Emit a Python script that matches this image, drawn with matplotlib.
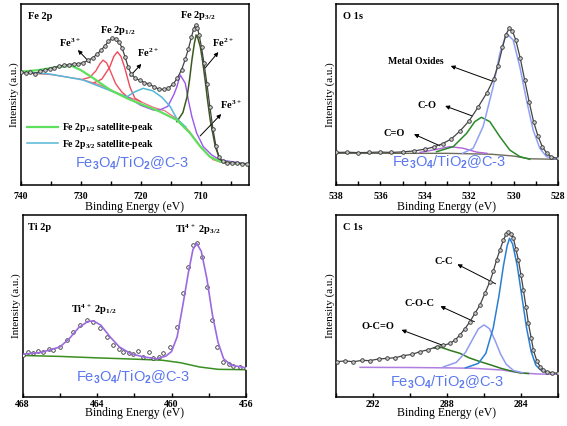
import matplotlib
matplotlib.use('Agg')
import matplotlib.pyplot as plt
from matplotlib.ticker import MultipleLocator
from matplotlib.lines import Line2D

plt.rcParams['font.family'] = 'Liberation Serif'
plt.rcParams['font.weight'] = 'bold'
plt.rcParams['mathtext.fontset'] = 'custom'
plt.rcParams['mathtext.rm'] = 'Liberation Serif:bold'
plt.rcParams['mathtext.sf'] = 'Liberation Sans'
plt.rcParams['mathtext.default'] = 'rm'

# ---------------- Fe 2p ----------------
fe_e = [740.0, 739.2, 738.4, 737.6, 736.8, 736.0, 735.2, 734.4, 733.6, 732.8, 732.0, 731.2,
        730.4, 729.6, 728.8, 728.0, 727.3, 726.6, 726.0, 725.4, 724.8, 724.2, 723.6, 723.1,
        722.6, 722.1, 721.6, 721.0, 720.2, 719.4, 718.6, 717.8, 717.0, 716.2, 715.4, 714.6,
        713.9, 713.2, 712.6, 712.1, 711.6, 711.2, 710.9, 710.6, 710.3, 709.9, 709.5, 709.0,
        708.5, 708.0, 707.5, 707.0, 706.4, 705.6, 704.8, 704.0, 703.2, 702.4]
fe_i = [62.6, 61.8, 62.2, 61.6, 62.8, 63.4, 64.2, 64.9, 65.6, 66.2, 66.5, 66.9,
        67.0, 67.6, 68.8, 70.3, 72.2, 74.6, 76.8, 79.4, 81.0, 80.6, 78.8, 75.5,
        70.5, 65.0, 61.2, 59.3, 57.8, 56.6, 55.7, 54.3, 53.0, 52.8, 53.6, 55.8,
        59.2, 63.8, 69.5, 75.0, 81.5, 86.2, 88.2, 87.0, 83.0, 76.0, 67.5, 56.0,
        43.0, 31.0, 21.5, 15.5, 13.0, 12.3, 12.1, 12.3, 11.8, 11.7]

fe_bg_e = [740, 735, 730, 727, 724, 722, 720, 718, 716, 714, 712, 710, 708, 706, 702]
fe_bg_i = [62.0, 61.0, 58.5, 55.5, 51.0, 48.5, 46.0, 43.0, 41.0, 36.5, 30.0, 21.0, 14.0, 12.0, 11.5]

fe_sat12_e = [740, 737, 734, 731.5, 730, 727.9, 725.1, 722.3, 719.6, 716.8, 714.0, 711.8, 710.1, 708.5, 706.8, 704, 702]
fe_sat12_i = [62.6, 63.5, 65.2, 65.8, 63.5, 59.0, 52.5, 47.9, 44.2, 40.5, 35.9, 28.6, 21.2, 15.6, 12.9, 11.8, 11.5]

fe_sat32_e = [740, 735.1, 729.6, 724.0, 722.3, 721.0, 719.6, 718.0, 716.5, 715.1, 714.0, 712.5]
fe_sat32_i = [62.6, 61.3, 58.0, 50.7, 48.8, 51.5, 53.4, 52.0, 48.5, 43.3, 36.5, 32.0]

fe_r1_e = [729.8, 728.5, 727.5, 726.8, 726.3, 725.7, 725.2, 724.2, 723.2, 722.5]
fe_r1_i = [58.3, 59.5, 63.0, 67.0, 69.0, 67.5, 64.0, 56.0, 51.5, 49.5]

fe_r2_e = [727.8, 726.5, 725.2, 724.5, 723.9, 723.3, 722.7, 721.8, 721.0, 720.0]
fe_r2_i = [56.5, 58.5, 65.0, 71.0, 73.6, 71.0, 65.0, 54.0, 48.0, 46.0]

fe_p3_e = [722.3, 720.0, 717.9, 716.8, 715.5, 714.5, 714.0, 713.45, 712.6, 712.1, 711.5, 710.7, 709.6, 708.2, 706.8, 702]
fe_p3_i = [48.8, 44.0, 41.4, 41.5, 43.5, 50.0, 54.3, 60.8, 56.2, 47.0, 37.7, 28.6, 21.2, 16.6, 13.8, 11.6]

fe_p2_e = [714.0, 713.0, 712.3, 711.9, 711.5, 711.1, 710.8, 710.5, 710.1, 709.7, 709.3, 708.9, 708.45, 707.6, 706.8, 705.0]
fe_p2_i = [35.0, 40.0, 48.8, 58.0, 69.0, 78.0, 82.9, 81.0, 76.4, 68.0, 58.0, 47.0, 35.9, 21.2, 13.8, 12.2]

# ---------------- O 1s ----------------
o_e = [538.0, 537.5, 537.0, 536.5, 536.0, 535.5, 535.0, 534.5, 534.0, 533.6, 533.2, 532.8,
       532.4, 532.0, 531.6, 531.2, 530.9, 530.7, 530.5, 530.35, 530.2, 530.05, 529.9, 529.7,
       529.5, 529.3, 529.1, 528.9, 528.7, 528.5, 528.3, 528.0]
o_i = [18.0, 18.1, 17.9, 18.0, 18.2, 18.0, 18.3, 18.8, 19.8, 21.0, 22.8, 25.5,
       30.0, 35.5, 43.0, 51.0, 58.5, 66.0, 76.0, 83.0, 86.5, 85.0, 80.0, 70.0,
       58.0, 46.0, 35.0, 27.0, 21.0, 17.5, 15.5, 14.7]
o_bg_e = [538, 533, 531, 530, 529.3, 528]
o_bg_i = [17.5, 17.5, 17.0, 16.0, 14.5, 14.2]
o_mo_e = [532.3, 531.82, 531.37, 530.92, 530.62, 530.32, 530.02, 529.72, 529.42, 529.12, 528.82, 528.52, 528.0]
o_mo_i = [17.5, 20.3, 32.4, 54.3, 72.7, 83.8, 80.1, 65.4, 47.0, 30.4, 20.3, 15.7, 14.3]
o_co_e = [533.47, 532.72, 532.12, 531.75, 531.45, 531.07, 530.62, 530.17, 529.72, 529.27]
o_co_i = [18.4, 21.2, 28.5, 35.0, 37.4, 35.0, 26.7, 19.3, 15.7, 14.2]
o_cdo_e = [534.22, 533.47, 532.87, 532.27, 531.67, 531.2]
o_cdo_i = [18.0, 19.7, 21.2, 20.3, 18.2, 17.5]

# ---------------- Ti 2p ----------------
ti_e = [467.96, 467.7, 467.43, 467.15, 466.89, 466.6, 466.35, 465.99, 465.63, 465.28, 464.92, 464.56,
        464.2, 463.84, 463.48, 463.13, 462.85, 462.59, 462.3, 462.05, 461.8, 461.51, 461.2, 460.97,
        460.7, 460.44, 460.08, 459.72, 459.36, 459.09, 458.82, 458.65, 458.38, 458.11, 457.84,
        457.57, 457.21, 456.9, 456.67, 456.3, 455.99]
ti_i = [23.1, 24.6, 24.0, 25.2, 24.9, 26.1, 25.8, 27.7, 31.3, 35.9, 39.6, 42.3,
        41.4, 37.7, 33.2, 28.6, 26.4, 24.9, 24.3, 23.6, 25.0, 22.2, 24.5, 21.2,
        22.0, 24.0, 27.7, 38.6, 57.0, 71.6, 83.5, 84.4, 77.1, 60.6, 42.3,
        27.7, 19.4, 18.0, 17.0, 16.5, 15.8]
ti_fit_e = [468, 467, 466, 465.5, 465, 464.5, 464.2, 463.8, 463.3, 462.8, 462.2, 461.5, 460.8, 460.3,
            460, 459.7, 459.4, 459.1, 458.85, 458.65, 458.4, 458.1, 457.8, 457.5, 457.2, 456.8, 456]
ti_fit_i = [23.5, 24.5, 27.5, 32.0, 38.0, 41.5, 41.8, 39.5, 33.0, 27.5, 23.8, 22.0, 21.0, 22.5,
            25.0, 33.0, 50.0, 68.0, 81.0, 84.5, 80.0, 65.0, 45.0, 30.0, 21.0, 17.5, 16.0]
ti_bg_e = [468, 466, 464, 462, 460.5, 459.5, 458.5, 457.5, 456]
ti_bg_i = [22.8, 22.3, 21.5, 20.8, 20.2, 18.8, 16.5, 15.2, 15.0]

# ---------------- C 1s ----------------
c_e = [293.96, 293.5, 293.06, 292.6, 292.16, 291.7, 291.26, 290.8, 290.36, 289.9, 289.46, 289.0,
       288.56, 288.2, 287.84, 287.57, 287.3, 287.03, 286.76, 286.49, 286.22, 285.95, 285.68, 285.5,
       285.32, 285.13, 284.95, 284.8, 284.68, 284.55, 284.41, 284.28, 284.14, 284.0, 283.87, 283.73,
       283.6, 283.45, 283.33, 283.15, 282.97, 282.8, 282.61, 282.3, 281.98]
c_i = [19.4, 19.8, 19.4, 20.1, 20.0, 20.9, 21.2, 21.6, 22.7, 23.4, 24.9, 26.0,
       27.7, 28.3, 29.5, 31.2, 34.1, 37.5, 41.4, 46.0, 50.5, 57.0, 63.4, 69.0,
       75.3, 81.0, 86.3, 89.5, 90.8, 89.8, 87.2, 81.5, 75.3, 67.0, 58.8, 49.5,
       40.5, 32.5, 25.8, 20.0, 16.7, 15.0, 13.9, 13.3, 13.0]
c_cc_e = [287.0, 286.3, 285.9, 285.5, 285.2, 284.95, 284.75, 284.62, 284.45, 284.2, 283.95, 283.7, 283.45, 283.2, 282.9, 282.6]
c_cc_i = [16.0, 18.5, 24.0, 38.0, 55.0, 72.0, 83.0, 87.2, 84.0, 72.0, 55.0, 38.0, 25.0, 17.5, 14.5, 13.5]
c_coc_e = [288.2, 287.5, 287.0, 286.6, 286.3, 286.0, 285.7, 285.4, 285.1, 284.8, 284.4, 283.9]
c_coc_i = [16.5, 19.0, 24.5, 32.0, 37.5, 39.6, 37.5, 31.0, 23.5, 18.0, 14.5, 13.3]
c_oco_e = [288.7, 288.3, 287.8, 287.3, 286.8, 286.2, 285.6, 285.1, 284.5, 284.0, 283.6]
c_oco_i = [26.8, 27.2, 25.5, 24.0, 21.5, 19.4, 17.5, 15.8, 14.2, 13.2, 12.9]
c_bg_e = [292.7, 290, 288, 286.6, 285, 284, 283, 282]
c_bg_i = [16.3, 16.2, 16.0, 15.8, 14.8, 13.2, 12.6, 12.5]

sample = r"Fe$_\mathsf{3}$O$_\mathsf{4}$/TiO$_\mathsf{2}$@C-3"
blue = '#5b78ee'

fig = plt.figure(figsize=(5.67, 4.26), dpi=100)
ax1 = fig.add_axes([0.0365, 0.5657, 0.4026, 0.4249])
ax2 = fig.add_axes([0.5926, 0.5657, 0.3915, 0.4249])
ax3 = fig.add_axes([0.0400, 0.0681, 0.3938, 0.4272])
ax4 = fig.add_axes([0.5926, 0.0681, 0.3915, 0.4272])


def style(ax, xlim, major, minor, pad, lpad):
    ax.set_xlim(*xlim)
    ax.set_ylim(0, 100)
    ax.xaxis.set_major_locator(MultipleLocator(major))
    ax.xaxis.set_minor_locator(MultipleLocator(minor))
    ax.set_yticks([])
    ax.tick_params(axis='x', which='both', direction='in', labelsize=7, pad=pad)
    ax.tick_params(axis='x', which='major', length=3, width=1)
    ax.tick_params(axis='x', which='minor', length=3, width=1)
    for s in ax.spines.values():
        s.set_linewidth(1.1)
    ax.set_xlabel('Binding Energy (eV)', fontsize=8.5, labelpad=lpad)
    ax.set_ylabel('Intensity (a.u.)', fontsize=8, labelpad=1)


def data(ax, e, i):
    ax.plot(e, i, '-', color='#444444', lw=0.9, zorder=5)
    ax.plot(e, i, 'o', ms=2.6, mfc='#c8c8c8', mec='#333333', mew=0.6, zorder=6)


def arrow(ax, head, tail):
    ax.annotate('', xy=head, xytext=tail,
                arrowprops=dict(arrowstyle='-|>', color='black', lw=0.7, mutation_scale=6))


# Fe 2p
style(ax1, (740, 702), 10, 5, 5, 0)
ax1.plot(fe_bg_e, fe_bg_i, color='#f07080', lw=0.9)
ax1.plot(fe_r1_e, fe_r1_i, color='#f05060', lw=1.0)
ax1.plot(fe_r2_e, fe_r2_i, color='#f04858', lw=1.0)
ax1.plot(fe_p3_e, fe_p3_i, color='#9a55ee', lw=1.0)
ax1.plot(fe_p2_e, fe_p2_i, color='#3c5a20', lw=1.1)
ax1.plot(fe_sat32_e, fe_sat32_i, color='#55b8d8', lw=1.1)
ax1.plot(fe_sat12_e, fe_sat12_i, color='#5ee05e', lw=1.6)
data(ax1, fe_e, fe_i)
ax1.text(0.03, 0.93, 'Fe 2p', transform=ax1.transAxes, fontsize=7.5, va='center')
ax1.text(723.8, 85.6, 'Fe 2p$_{1/2}$', fontsize=7.5, ha='center', va='center')
ax1.text(710.6, 93.9, 'Fe 2p$_{3/2}$', fontsize=7.5, ha='center', va='center')
ax1.text(731.8, 78.5, 'Fe$^{3+}$', fontsize=7.5, ha='center', va='center')
arrow(ax1, (730.8, 75.7), (728.1, 66.3))
ax1.text(718.8, 72.9, 'Fe$^{2+}$', fontsize=7.5, ha='center', va='center')
arrow(ax1, (719.6, 68.0), (722.1, 59.1))
ax1.text(706.3, 78.5, 'Fe$^{2+}$', fontsize=7.5, ha='center', va='center')
arrow(ax1, (706.8, 74.6), (709.6, 63.5))
ax1.text(705.0, 44.2, 'Fe$^{3+}$', fontsize=7.5, ha='center', va='center')
arrow(ax1, (706.3, 40.3), (710.45, 26.0))
handles = [Line2D([], [], color='#5ee05e', lw=1.6), Line2D([], [], color='#55b8d8', lw=1.1)]
ax1.legend(handles, ['Fe 2p$_{1/2}$ satellite-peak', 'Fe 2p$_{3/2}$ satellite-peak'],
           loc='center left', bbox_to_anchor=(-0.01, 0.27), frameon=False, fontsize=7,
           handlelength=3.2, handletextpad=0.4, labelspacing=0.35)
ax1.text(0.49, 0.12, sample, transform=ax1.transAxes, color=blue, fontsize=10.5,
         family='Liberation Sans', weight='normal', ha='center', va='center')

# O 1s
style(ax2, (538, 528), 2, 1, 5, 0)
ax2.plot(o_bg_e, o_bg_i, color='#6d6d5a', lw=1.0)
ax2.plot(o_cdo_e, o_cdo_i, color='#b060d8', lw=1.0)
ax2.plot(o_co_e, o_co_i, color='#2a8a2a', lw=1.1)
ax2.plot(o_mo_e, o_mo_i, color='#8fa0f5', lw=1.1)
data(ax2, o_e, o_i)
ax2.text(0.03, 0.93, 'O 1s', transform=ax2.transAxes, fontsize=7.5, va='center')
ax2.text(534.4, 68.0, 'Metal Oxides', fontsize=7, ha='center', va='center')
arrow(ax2, (532.95, 66.3), (530.84, 56.9))
ax2.text(533.9, 44.2, 'C-O', fontsize=7.5, ha='center', va='center')
arrow(ax2, (533.2, 44.2), (531.74, 37.6))
ax2.text(535.4, 28.7, 'C=O', fontsize=7.5, ha='center', va='center')
arrow(ax2, (534.6, 28.7), (533.2, 21.0))
ax2.text(0.509, 0.127, sample, transform=ax2.transAxes, color=blue, fontsize=10.5,
         family='Liberation Sans', weight='normal', ha='center', va='center')

# Ti 2p
style(ax3, (468, 456), 4, 2, 2, -1)
ax3.plot(ti_bg_e, ti_bg_i, color='#3a8f20', lw=1.1)
ax3.plot(ti_fit_e, ti_fit_i, color='#9b6ae0', lw=1.2, zorder=7)
ax3.plot(ti_e, ti_i, 'o', ms=2.6, mfc='white', mec='#333333', mew=0.6, zorder=6)
ax3.text(0.024, 0.93, 'Ti 2p', transform=ax3.transAxes, fontsize=7.5, va='center')
ax3.text(458.57, 91.8, 'Ti$^{4+}$ 2p$_{3/2}$', fontsize=7.5, ha='center', va='center')
ax3.text(464.17, 47.8, 'Ti$^{4+}$ 2p$_{1/2}$', fontsize=7.5, ha='center', va='center')
ax3.text(0.494, 0.11, sample, transform=ax3.transAxes, color=blue, fontsize=10.5,
         family='Liberation Sans', weight='normal', ha='center', va='center')

# C 1s
style(ax4, (294, 282), 4, 2, 2, -1)
ax4.plot(c_bg_e, c_bg_i, color='#b07ee0', lw=1.1)
ax4.plot(c_oco_e, c_oco_i, color='#2f7a1f', lw=1.1)
ax4.plot(c_coc_e, c_coc_i, color='#8f9cf0', lw=1.1)
ax4.plot(c_cc_e, c_cc_i, color='#2a7fd4', lw=1.1)
data(ax4, c_e, c_i)
ax4.text(0.03, 0.93, 'C 1s', transform=ax4.transAxes, fontsize=7.5, va='center')
ax4.text(288.2, 74.2, 'C-C', fontsize=7.5, ha='center', va='center')
arrow(ax4, (287.57, 73.6), (285.24, 61.5))
ax4.text(289.46, 51.1, 'C-O-C', fontsize=7.5, ha='center', va='center')
arrow(ax4, (288.49, 50.5), (286.38, 40.7))
ax4.text(291.73, 38.5, 'O-C=O', fontsize=7.5, ha='center', va='center')
arrow(ax4, (290.6, 37.4), (288.0, 27.5))
ax4.text(0.5, 0.082, sample, transform=ax4.transAxes, color=blue, fontsize=10.5,
         family='Liberation Sans', weight='normal', ha='center', va='center')

fig.savefig('out.png', dpi=100)
